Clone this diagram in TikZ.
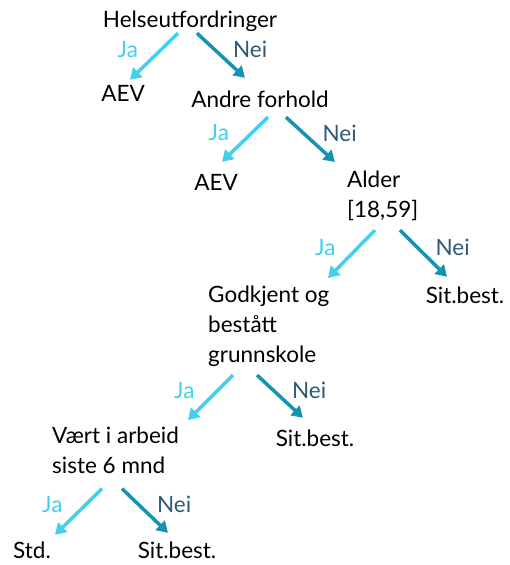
\documentclass[tikz,border=0pt]{standalone}
\usepackage{fontspec}
\setmainfont{Lato}
\usetikzlibrary{arrows.meta}
\usetikzlibrary{calc}
\definecolor{jablue}{HTML}{40D0F0}
\definecolor{neiblue}{HTML}{1593B0}
\definecolor{neitext}{HTML}{2E5A72}
\tikzset{> = {Triangle[length=11pt, width=13pt]},
  txt/.style = {inner sep = 0, anchor = base, text height = 17pt, text depth = 5.5pt},
  multi/.style = {inner sep = 0, anchor = north west, align = left},
  ja/.style = {->, jablue, line width = 3.5pt},
  nei/.style = {->, neiblue, line width = 3.5pt},
  jalabel/.style = {midway, anchor = east, xshift = -11pt, yshift = 7pt, text = jablue},
  neilabel/.style = {midway, anchor = west, xshift = 7pt, yshift = 6pt, text = neitext}}

\begin{document}
\begin{tikzpicture}[x = 1pt, y = -1pt, font = \fontsize{22.5}{30}\selectfont]
  \useasboundingbox (0,0) rectangle (509,565);
  % nodes
  \node (helse) [txt] at (190,27) {Helseutfordringer};
  \node (aevA) [txt] at (123,101) {AEV};
  \node (andre) [txt] at (260,107) {Andre forhold};
  \node (aevB) [txt] at (216,190) {AEV};
  \node (alder) [multi] at (347,170.5) {Alder\\{[}18,59{]}};
  \node (sitA) [txt] at (465,303) {Sit.best.};
  \node (godkj) [multi] at (208,285.5) {Godkjent og\\bestått\\grunnskole};
  \node (sitB) [txt] at (315,446) {Sit.best.};
  \node (vaert) [multi] at (52,426.5) {Vært i arbeid\\siste 6 mnd};
  \node (std) [txt] at (32,558) {Std.};
  \node (sitC) [txt] at (177,558) {Sit.best.};
  % edges
  \draw [ja] ($(helse.south)+(-12,0.5)$) -- node [jalabel] {Ja} ($(aevA.north)+(7,-4)$);
  \draw [nei] ($(helse.south)+(7,0.5)$) -- node [neilabel] {Nei} ($(andre.north)+(-15,-12)$);
  \draw [ja] ($(andre.south)+(8,4.5)$) -- node [jalabel] {Ja} ($(aevB.north)+(6,-11)$);
  \draw [nei] ($(andre.south)+(26,4.5)$) -- node [neilabel] {Nei} ($(alder.north west)+(-12,-8.5)$);
  \draw [ja] ($(alder.south west)+(28,9.5)$) -- node [jalabel] {Ja} ($(godkj.north west)+(120,-7.5)$);
  \draw [nei] ($(alder.south west)+(53,9.5)$) -- node [neilabel] {Nei} ($(sitA.north)+(-18,-9)$);
  \draw [ja] ($(godkj.south west)+(25,8.5)$) -- node [jalabel] {Ja} ($(vaert.north west)+(136,-6.5)$);
  \draw [nei] ($(godkj.south west)+(49,8.5)$) -- node [neilabel] {Nei} ($(sitB.north)+(-12,-11)$);
  \draw [ja] ($(vaert.south west)+(50,15)$) -- node [jalabel] {Ja} ($(std.north)+(23,-6)$);
  \draw [nei] ($(vaert.south west)+(70,15)$) -- node [neilabel] {Nei} ($(sitC.north)+(-9,-8)$);
\end{tikzpicture}
\end{document}
